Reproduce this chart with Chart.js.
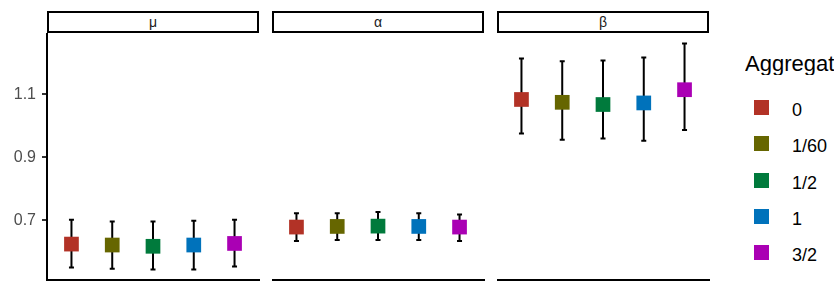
<!DOCTYPE html>
<html>
<head>
<meta charset="utf-8">
<script src="https://cdn.jsdelivr.net/npm/chart.js@4.4.1/dist/chart.umd.min.js"></script>
<style>
  html, body { margin:0; padding:0; background:#fff; width:837px; height:298px; overflow:hidden; font-family:"Liberation Sans", Arial, sans-serif; }
  #root { position:relative; width:837px; height:298px; overflow:hidden; }
  .cv { position:absolute; }
  .strip { position:absolute; top:11px; height:18px; border:2px solid #000; box-sizing:content-box; text-align:center; font-size:14px; line-height:18px; color:#1a1a1a; }
  .ltitle { position:absolute; left:745px; top:53px; width:89px; overflow:hidden; font-size:22px; line-height:22px; color:#000; white-space:nowrap; }
  .lkey { position:absolute; left:754px; width:15px; height:15px; }
  .llab { position:absolute; left:792px; font-size:18px; line-height:18px; color:#000; white-space:nowrap; }
</style>
</head>
<body>
<div id="root"></div>
<script>
// ---- data ----
const facets = ['μ', 'α', 'β'];
const levels = ['0', '1/60', '1/2', '1', '3/2'];
const levelColors = ['#B23226', '#666600', '#007A3C', '#0072BB', '#AA00B4'];
const yTickValues = [0.7, 0.9, 1.1];
const yTickLabels = ['0.7', '0.9', '1.1'];

const muEst = [0.625, 0.622, 0.618, 0.622, 0.627];
const muLow = [0.551, 0.547, 0.544, 0.544, 0.554];
const muHigh = [0.702, 0.697, 0.697, 0.699, 0.702];

const alphaEst = [0.679, 0.681, 0.682, 0.681, 0.679];
const alphaLow = [0.635, 0.638, 0.638, 0.638, 0.635];
const alphaHigh = [0.723, 0.723, 0.727, 0.723, 0.719];

const betaEst = [1.084, 1.075, 1.068, 1.073, 1.115];
const betaLow = [0.976, 0.956, 0.960, 0.953, 0.987];
const betaHigh = [1.214, 1.205, 1.208, 1.217, 1.262];

const facetData = [
  { est: muEst, low: muLow, high: muHigh },
  { est: alphaEst, low: alphaLow, high: alphaHigh },
  { est: betaEst, low: betaLow, high: betaHigh }
];

// ---- layout ----
const panelLeft = [47, 272, 497];
const panelWidth = 212;
const panelTop = 33;
const panelHeight = 246;
const yMin = 0.511, yMax = 1.295;
const FONT = '"Liberation Sans", Arial, sans-serif';

const errorBarPlugin = {
  id: 'errorBars',
  beforeDatasetsDraw(chart) {
    const ctx = chart.ctx;
    const ys = chart.scales.y;
    const fd = chart.options.plugins.errorBars.data;
    ctx.save();
    ctx.strokeStyle = '#000';
    ctx.lineWidth = 2;
    chart.data.datasets.forEach((ds, i) => {
      const meta = chart.getDatasetMeta(i);
      meta.data.forEach((pt) => {
        const x = pt.x;
        const yl = ys.getPixelForValue(fd.low[i]);
        const yh = ys.getPixelForValue(fd.high[i]);
        ctx.beginPath();
        ctx.moveTo(x, yl); ctx.lineTo(x, yh);
        ctx.moveTo(x - 2.5, yl); ctx.lineTo(x + 2.5, yl);
        ctx.moveTo(x - 2.5, yh); ctx.lineTo(x + 2.5, yh);
        ctx.stroke();
      });
    });
    ctx.restore();
  }
};

const root = document.getElementById('root');

facets.forEach((name, f) => {
  const first = f === 0;
  const axisW = first ? 47 : 0;
  const canvasW = panelWidth + axisW + 1;
  const canvasH = panelHeight + 2;
  const c = document.createElement('canvas');
  c.className = 'cv';
  c.style.left = (panelLeft[f] - axisW) + 'px';
  c.style.top = panelTop + 'px';
  c.style.width = canvasW + 'px';
  c.style.height = canvasH + 'px';
  c.width = canvasW; c.height = canvasH;
  root.appendChild(c);

  const strip = document.createElement('div');
  strip.className = 'strip';
  strip.style.left = panelLeft[f] + 'px';
  strip.style.width = (panelWidth - 4) + 'px';
  strip.textContent = name;
  root.appendChild(strip);

  const fd = facetData[f];
  const datasets = levels.map((lv, i) => ({
    label: lv,
    data: [{ x: i + 1, y: fd.est[i] }],
    backgroundColor: levelColors[i],
    borderColor: levelColors[i],
    borderWidth: 0,
    pointStyle: 'rect',
    pointRadius: 10.4,
    pointHoverRadius: 10.4
  }));

  new Chart(c, {
    type: 'scatter',
    data: { datasets },
    plugins: [errorBarPlugin],
    options: {
      responsive: false,
      animation: false,
      devicePixelRatio: 1,
      layout: { autoPadding: false, padding: { top: 0, bottom: 1, left: 0, right: 1 } },
      plugins: {
        legend: { display: false },
        tooltip: { enabled: false },
        errorBars: { data: fd }
      },
      scales: {
        x: {
          type: 'linear', min: 0.4, max: 5.6,
          ticks: { display: false },
          grid: { display: false },
          border: { display: true, color: '#000', width: 2 },
          afterFit(s) { s.height = 0; s.paddingLeft = 0; s.paddingRight = 0; }
        },
        y: {
          type: 'linear', min: yMin, max: yMax,
          display: first,
          afterBuildTicks(s) { s.ticks = yTickValues.map(v => ({ value: v })); },
          afterFit(s) { s.width = axisW; s.paddingTop = 0; s.paddingBottom = 0; },
          ticks: {
            color: '#4D4D4D',
            font: { family: FONT, size: 16 },
            padding: 6,
            callback(v) { const k = yTickValues.indexOf(v); return k >= 0 ? yTickLabels[k] : ''; }
          },
          grid: { drawOnChartArea: false, drawTicks: true, tickLength: 5, color: '#333', lineWidth: 2 },
          border: { display: true, color: '#000', width: 2 }
        }
      }
    }
  });
});

// ---- legend ----
const t = document.createElement('div');
t.className = 'ltitle';
t.textContent = 'Aggregation';
root.appendChild(t);
const keyY = [107, 143, 180, 216, 252];
levels.forEach((lv, i) => {
  const k = document.createElement('div');
  k.className = 'lkey';
  k.style.top = (keyY[i] - 7.5) + 'px';
  k.style.background = levelColors[i];
  root.appendChild(k);
  const l = document.createElement('div');
  l.className = 'llab';
  l.style.top = (keyY[i] - 6) + 'px';
  l.textContent = lv;
  root.appendChild(l);
});
</script>
</body>
</html>
